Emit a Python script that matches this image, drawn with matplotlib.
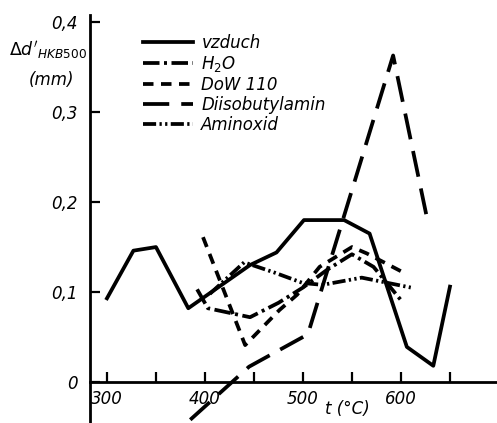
import matplotlib
matplotlib.use("Agg")
import matplotlib.pyplot as plt

plt.rcParams['font.family'] = ['DejaVu Sans']
plt.rcParams['mathtext.default'] = 'it'

# hodnoty (t v °C, delta d v mm)
vzduch_t = [300, 327, 350, 383, 446, 473, 501, 542, 568, 606, 633, 650]
vzduch_v = [0.093, 0.146, 0.150, 0.082, 0.130, 0.144, 0.180, 0.180, 0.165, 0.039, 0.018, 0.106]

h2o_t = [392, 403, 446, 475, 500, 525, 550, 572, 600]
h2o_v = [0.103, 0.082, 0.072, 0.088, 0.105, 0.125, 0.142, 0.128, 0.091]

dow_t = [398, 441, 476, 494, 517, 550, 565, 602]
dow_v = [0.161, 0.041, 0.080, 0.097, 0.128, 0.150, 0.143, 0.122]

diiso_t = [385, 445, 505, 592, 627]
diiso_v = [-0.042, 0.017, 0.053, 0.363, 0.180]

amin_t = [405, 440, 470, 500, 520, 560, 610]
amin_v = [0.098, 0.133, 0.122, 0.110, 0.108, 0.116, 0.105]

x_ticks = [300, 350, 400, 450, 500, 550, 600, 650]
x_labels = ['300', '', '400', '', '500', '', '600', '']
y_ticks = [0, 0.1, 0.2, 0.3, 0.4]
y_labels = ['0', '0,1', '0,2', '0,3', '0,4']

fig = plt.figure(figsize=(4.97, 4.23), dpi=100)
ax = fig.add_axes([90 / 497, 0, 407 / 497, 408 / 423])

lw = 2.7
ax.plot(vzduch_t, vzduch_v, color='black', lw=lw, linestyle='-', label='vzduch')
ax.plot(h2o_t, h2o_v, color='black', lw=lw, linestyle=(0, (4.4, 1.2, 0.8, 1.2)), label='H$_2$O')
ax.plot(dow_t, dow_v, color='black', lw=lw, linestyle=(0, (2.8, 2.0)), label='DoW 110')
ax.plot(diiso_t, diiso_v, color='black', lw=lw, linestyle=(0, (7, 3.2)), label='Diisobutylamin')
ax.plot(amin_t, amin_v, color='black', lw=lw, linestyle=(0, (3.5, 0.9, 0.6, 0.9, 0.6, 0.9)), label='Aminoxid')

ax.set_xlim(282.7, 698)
ax.set_ylim(-0.0456, 0.408)

ax.spines['top'].set_visible(False)
ax.spines['right'].set_visible(False)
ax.spines['bottom'].set_position(('data', 0))
ax.spines['left'].set_linewidth(2.0)
ax.spines['bottom'].set_linewidth(2.0)

ax.set_xticks(x_ticks)
ax.set_xticklabels(x_labels, fontsize=12, fontstyle='italic')
ax.set_yticks(y_ticks)
ax.set_yticklabels(y_labels, fontsize=12, fontstyle='italic')
ax.tick_params(axis='both', direction='in', length=7, width=1.6)
ax.tick_params(axis='x', pad=6)
ax.tick_params(axis='y', pad=9)

ax.text(545, -0.03, 't (°C)', fontsize=12, fontstyle='italic', ha='center', va='center')

fig.text(48 / 497, 1 - 50 / 423, r"$\Delta d'_{HKB500}$", fontsize=12.5, ha='center', va='center')
fig.text(51 / 497, 1 - 80 / 423, '(mm)', fontsize=12, fontstyle='italic', ha='center', va='center')

leg = ax.legend(loc='upper left', bbox_to_anchor=((143 - 90) / 407, (423 - 34) / 408),
                frameon=False, fontsize=12, handlelength=3.0, handletextpad=0.5,
                labelspacing=0.12, borderaxespad=0, borderpad=0)
for t in leg.get_texts():
    t.set_fontstyle('italic')

fig.savefig('out.png', dpi=100)
